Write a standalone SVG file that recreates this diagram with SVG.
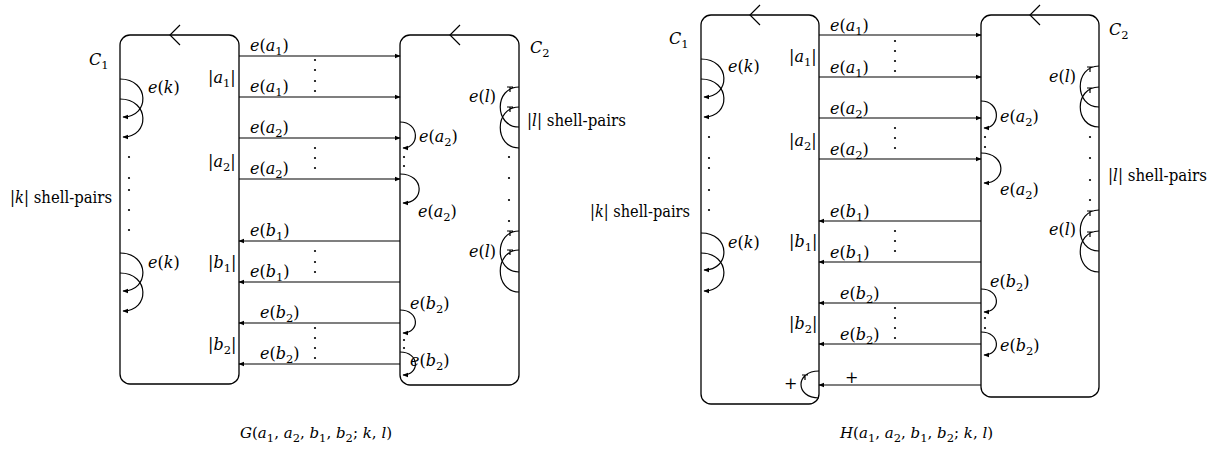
<svg xmlns="http://www.w3.org/2000/svg" width="1222" height="455" viewBox="0 0 1222 455">
<style>
.box{fill:none;stroke:#000;stroke-width:1.3}
.ln{fill:none;stroke:#000;stroke-width:1.2}
.ar{marker-end:url(#ah)}
.t{font-family:"DejaVu Serif","Liberation Serif",serif;font-size:16px;fill:#000}
.c{font-size:15px}
.i{font-style:italic}
.s{font-size:11.5px}
.d{fill:#000}
</style>
<defs>
<marker id="ah" viewBox="0 0 10 10" refX="9" refY="5" markerWidth="6" markerHeight="6" markerUnits="userSpaceOnUse" orient="auto"><path d="M0,1 L10,5 L0,9 Z" fill="#000"/></marker>
</defs>
<rect width="1222" height="455" fill="#fff"/>

<!-- ===== Diagram G ===== -->
<g id="G-C1">
<rect class="box" x="120" y="35" width="119" height="349" rx="10"/>
<path class="ln" d="M180,25 L170,35 L180,45"/>
<text class="t" x="89" y="65"><tspan class="i">C</tspan><tspan class="s" dy="4">1</tspan></text>
<text class="t" x="148" y="93"><tspan class="i">e</tspan>(<tspan class="i">k</tspan>)</text>
<text class="t" x="148" y="268"><tspan class="i">e</tspan>(<tspan class="i">k</tspan>)</text>
<text class="t" x="10" y="203" textLength="102" lengthAdjust="spacingAndGlyphs">|<tspan class="i">k</tspan>| shell-pairs</text>
<circle class="d" cx="129" cy="157" r="1.1"/><circle class="d" cx="129" cy="178" r="1.1"/><circle class="d" cx="129" cy="190" r="1.1"/><circle class="d" cx="129" cy="210" r="1.1"/><circle class="d" cx="129" cy="230" r="1.1"/>
<text class="t" x="208" y="83">|<tspan class="i">a</tspan><tspan class="s" dy="4">1</tspan><tspan dy="-4">|</tspan></text>
<text class="t" x="208" y="167">|<tspan class="i">a</tspan><tspan class="s" dy="4">2</tspan><tspan dy="-4">|</tspan></text>
<text class="t" x="208" y="268">|<tspan class="i">b</tspan><tspan class="s" dy="4">1</tspan><tspan dy="-4">|</tspan></text>
<text class="t" x="208" y="350">|<tspan class="i">b</tspan><tspan class="s" dy="4">2</tspan><tspan dy="-4">|</tspan></text>
</g>
<g id="G-C2">
<rect class="box" x="400" y="35" width="119" height="350" rx="10"/>
<path class="ln" d="M460,25 L450,35 L460,45"/>
<text class="t" x="530" y="53"><tspan class="i">C</tspan><tspan class="s" dy="4">2</tspan></text>
<text class="t" x="469" y="102"><tspan class="i">e</tspan>(<tspan class="i">l</tspan>)</text>
<text class="t" x="469" y="257"><tspan class="i">e</tspan>(<tspan class="i">l</tspan>)</text>
<text class="t" x="527" y="126" textLength="99" lengthAdjust="spacingAndGlyphs">|<tspan class="i">l</tspan>| shell-pairs</text>
<circle class="d" cx="509" cy="157" r="1.1"/><circle class="d" cx="509" cy="178" r="1.1"/><circle class="d" cx="509" cy="200" r="1.1"/><circle class="d" cx="509" cy="221" r="1.1"/>
<circle class="d" cx="404" cy="157" r="1.1"/><circle class="d" cx="404" cy="166" r="1.1"/>
<circle class="d" cx="404" cy="340" r="1.1"/><circle class="d" cx="404" cy="348" r="1.1"/>
<text class="t" x="419" y="142"><tspan class="i">e</tspan>(<tspan class="i">a</tspan><tspan class="s" dy="4">2</tspan><tspan dy="-4">)</tspan></text>
<text class="t" x="418" y="217"><tspan class="i">e</tspan>(<tspan class="i">a</tspan><tspan class="s" dy="4">2</tspan><tspan dy="-4">)</tspan></text>
<text class="t" x="410" y="309"><tspan class="i">e</tspan>(<tspan class="i">b</tspan><tspan class="s" dy="4">2</tspan><tspan dy="-4">)</tspan></text>
<text class="t" x="410" y="366"><tspan class="i">e</tspan>(<tspan class="i">b</tspan><tspan class="s" dy="4">2</tspan><tspan dy="-4">)</tspan></text>
</g>
<g id="G-connectors">
<path class="ln ar" d="M120,79 C150,79 150,117 123,117"/>
<path class="ln ar" d="M120,99 C150,99 150,137 123,137"/>
<path class="ln ar" d="M120,253 C150,253 150,291 123,291"/>
<path class="ln ar" d="M120,273 C150,273 150,311 123,311"/>
<path class="ln" d="M519,127 C494,127 494,87 519,87 M507,87 L513,87 M510,87 L510,92"/>
<path class="ln" d="M519,148 C494,148 494,107 519,107 M507,107 L513,107 M510,107 L510,112"/>
<path class="ln" d="M519,272 C494,272 494,231 519,231 M507,231 L513,231 M510,231 L510,236"/>
<path class="ln" d="M519,292 C494,292 494,250 519,250 M507,250 L513,250 M510,250 L510,255"/>
<path class="ln ar" d="M400,122 C420,122 420,148 403,148"/>
<path class="ln ar" d="M400,174 C425,174 425,203 403,203"/>
<path class="ln ar" d="M400,310 C420,310 420,333 403,333"/>
<path class="ln ar" d="M400,352 C420,352 420,375 403,375"/>
<path class="ln ar" d="M239,56 H400"/>
<path class="ln ar" d="M239,97 H400"/>
<path class="ln ar" d="M239,138 H400"/>
<path class="ln ar" d="M239,179 H400"/>
<path class="ln ar" d="M400,241 H239"/>
<path class="ln ar" d="M400,282 H239"/>
<path class="ln ar" d="M400,323 H239"/>
<path class="ln ar" d="M400,364 H239"/>
<text class="t" x="250" y="51"><tspan class="i">e</tspan>(<tspan class="i">a</tspan><tspan class="s" dy="4">1</tspan><tspan dy="-4">)</tspan></text>
<text class="t" x="250" y="92"><tspan class="i">e</tspan>(<tspan class="i">a</tspan><tspan class="s" dy="4">1</tspan><tspan dy="-4">)</tspan></text>
<text class="t" x="250" y="133"><tspan class="i">e</tspan>(<tspan class="i">a</tspan><tspan class="s" dy="4">2</tspan><tspan dy="-4">)</tspan></text>
<text class="t" x="250" y="174"><tspan class="i">e</tspan>(<tspan class="i">a</tspan><tspan class="s" dy="4">2</tspan><tspan dy="-4">)</tspan></text>
<text class="t" x="250" y="236"><tspan class="i">e</tspan>(<tspan class="i">b</tspan><tspan class="s" dy="4">1</tspan><tspan dy="-4">)</tspan></text>
<text class="t" x="250" y="277"><tspan class="i">e</tspan>(<tspan class="i">b</tspan><tspan class="s" dy="4">1</tspan><tspan dy="-4">)</tspan></text>
<text class="t" x="260" y="318"><tspan class="i">e</tspan>(<tspan class="i">b</tspan><tspan class="s" dy="4">2</tspan><tspan dy="-4">)</tspan></text>
<text class="t" x="260" y="359"><tspan class="i">e</tspan>(<tspan class="i">b</tspan><tspan class="s" dy="4">2</tspan><tspan dy="-4">)</tspan></text>
<circle class="d" cx="315" cy="60" r="1.1"/><circle class="d" cx="315" cy="70" r="1.1"/><circle class="d" cx="315" cy="81" r="1.1"/><circle class="d" cx="315" cy="91" r="1.1"/>
<circle class="d" cx="315" cy="148" r="1.1"/><circle class="d" cx="315" cy="158" r="1.1"/><circle class="d" cx="315" cy="168" r="1.1"/>
<circle class="d" cx="315" cy="251" r="1.1"/><circle class="d" cx="315" cy="262" r="1.1"/><circle class="d" cx="315" cy="272" r="1.1"/>
<circle class="d" cx="315" cy="328" r="1.1"/><circle class="d" cx="315" cy="338" r="1.1"/><circle class="d" cx="315" cy="348" r="1.1"/><circle class="d" cx="315" cy="358" r="1.1"/>
</g>
<text class="t c" x="240" y="438"><tspan class="i">G</tspan>(<tspan class="i">a</tspan><tspan class="s" dy="4">1</tspan><tspan dy="-4">, </tspan><tspan class="i">a</tspan><tspan class="s" dy="4">2</tspan><tspan dy="-4">, </tspan><tspan class="i">b</tspan><tspan class="s" dy="4">1</tspan><tspan dy="-4">, </tspan><tspan class="i">b</tspan><tspan class="s" dy="4">2</tspan><tspan dy="-4">; </tspan><tspan class="i">k</tspan>, <tspan class="i">l</tspan>)</text>

<!-- ===== Diagram H ===== -->
<g id="H-C1">
<rect class="box" x="701" y="15" width="118" height="389" rx="10"/>
<path class="ln" d="M760,5 L750,15 L760,25"/>
<text class="t" x="669" y="44"><tspan class="i">C</tspan><tspan class="s" dy="4">1</tspan></text>
<text class="t" x="728" y="72"><tspan class="i">e</tspan>(<tspan class="i">k</tspan>)</text>
<text class="t" x="728" y="248"><tspan class="i">e</tspan>(<tspan class="i">k</tspan>)</text>
<text class="t" x="590" y="217" textLength="100" lengthAdjust="spacingAndGlyphs">|<tspan class="i">k</tspan>| shell-pairs</text>
<circle class="d" cx="709" cy="137" r="1.1"/><circle class="d" cx="709" cy="158" r="1.1"/><circle class="d" cx="709" cy="168" r="1.1"/><circle class="d" cx="709" cy="190" r="1.1"/><circle class="d" cx="709" cy="210" r="1.1"/>
<text class="t" x="789" y="62">|<tspan class="i">a</tspan><tspan class="s" dy="4">1</tspan><tspan dy="-4">|</tspan></text>
<text class="t" x="789" y="146">|<tspan class="i">a</tspan><tspan class="s" dy="4">2</tspan><tspan dy="-4">|</tspan></text>
<text class="t" x="789" y="247">|<tspan class="i">b</tspan><tspan class="s" dy="4">1</tspan><tspan dy="-4">|</tspan></text>
<text class="t" x="789" y="329">|<tspan class="i">b</tspan><tspan class="s" dy="4">2</tspan><tspan dy="-4">|</tspan></text>
<text class="t" x="784" y="389">+</text>
</g>
<g id="H-C2">
<rect class="box" x="981" y="15" width="118" height="382" rx="10"/>
<path class="ln" d="M1040,5 L1030,15 L1040,25"/>
<text class="t" x="1109" y="35"><tspan class="i">C</tspan><tspan class="s" dy="4">2</tspan></text>
<text class="t" x="1049" y="82"><tspan class="i">e</tspan>(<tspan class="i">l</tspan>)</text>
<text class="t" x="1049" y="235"><tspan class="i">e</tspan>(<tspan class="i">l</tspan>)</text>
<text class="t" x="1108" y="181" textLength="99" lengthAdjust="spacingAndGlyphs">|<tspan class="i">l</tspan>| shell-pairs</text>
<circle class="d" cx="1090" cy="137" r="1.1"/><circle class="d" cx="1090" cy="158" r="1.1"/><circle class="d" cx="1090" cy="180" r="1.1"/><circle class="d" cx="1090" cy="200" r="1.1"/>
<circle class="d" cx="985" cy="137" r="1.1"/><circle class="d" cx="985" cy="147" r="1.1"/>
<circle class="d" cx="985" cy="318" r="1.1"/><circle class="d" cx="985" cy="328" r="1.1"/>
<text class="t" x="1000" y="122"><tspan class="i">e</tspan>(<tspan class="i">a</tspan><tspan class="s" dy="4">2</tspan><tspan dy="-4">)</tspan></text>
<text class="t" x="1000" y="195"><tspan class="i">e</tspan>(<tspan class="i">a</tspan><tspan class="s" dy="4">2</tspan><tspan dy="-4">)</tspan></text>
<text class="t" x="990" y="287"><tspan class="i">e</tspan>(<tspan class="i">b</tspan><tspan class="s" dy="4">2</tspan><tspan dy="-4">)</tspan></text>
<text class="t" x="1000" y="351"><tspan class="i">e</tspan>(<tspan class="i">b</tspan><tspan class="s" dy="4">2</tspan><tspan dy="-4">)</tspan></text>
</g>
<g id="H-connectors">
<path class="ln ar" d="M701,59 C731,59 731,97 704,97"/>
<path class="ln ar" d="M701,79 C731,79 731,117 704,117"/>
<path class="ln ar" d="M701,233 C731,233 731,270 704,270"/>
<path class="ln ar" d="M701,253 C731,253 731,291 704,291"/>
<path class="ln" d="M819,398 C795,398 795,371 819,371 M802,375 L808,375 M805,375 L805,380"/>
<path class="ln" d="M1099,107 C1074,107 1074,66 1099,66 M1087,67 L1093,67 M1090,67 L1090,72"/>
<path class="ln" d="M1099,127 C1074,127 1074,87 1099,87 M1087,88 L1093,88 M1090,88 L1090,93"/>
<path class="ln" d="M1099,251 C1074,251 1074,210 1099,210 M1087,211 L1093,211 M1090,211 L1090,216"/>
<path class="ln" d="M1099,272 C1074,272 1074,231 1099,231 M1087,232 L1093,232 M1090,232 L1090,237"/>
<path class="ln ar" d="M981,101 C1001,101 1001,128 984,128"/>
<path class="ln ar" d="M981,153 C1007,153 1007,183 984,183"/>
<path class="ln ar" d="M981,289 C1001,289 1001,312 984,312"/>
<path class="ln ar" d="M981,332 C1001,332 1001,355 984,355"/>
<path class="ln ar" d="M819,35 H981"/>
<path class="ln ar" d="M819,77 H981"/>
<path class="ln ar" d="M819,118 H981"/>
<path class="ln ar" d="M819,159 H981"/>
<path class="ln ar" d="M981,221 H819"/>
<path class="ln ar" d="M981,262 H819"/>
<path class="ln ar" d="M981,303 H819"/>
<path class="ln ar" d="M981,344 H819"/>
<path class="ln ar" d="M981,385 H819"/>
<text class="t" x="830" y="31"><tspan class="i">e</tspan>(<tspan class="i">a</tspan><tspan class="s" dy="4">1</tspan><tspan dy="-4">)</tspan></text>
<text class="t" x="830" y="73"><tspan class="i">e</tspan>(<tspan class="i">a</tspan><tspan class="s" dy="4">1</tspan><tspan dy="-4">)</tspan></text>
<text class="t" x="830" y="114"><tspan class="i">e</tspan>(<tspan class="i">a</tspan><tspan class="s" dy="4">2</tspan><tspan dy="-4">)</tspan></text>
<text class="t" x="830" y="155"><tspan class="i">e</tspan>(<tspan class="i">a</tspan><tspan class="s" dy="4">2</tspan><tspan dy="-4">)</tspan></text>
<text class="t" x="830" y="217"><tspan class="i">e</tspan>(<tspan class="i">b</tspan><tspan class="s" dy="4">1</tspan><tspan dy="-4">)</tspan></text>
<text class="t" x="830" y="258"><tspan class="i">e</tspan>(<tspan class="i">b</tspan><tspan class="s" dy="4">1</tspan><tspan dy="-4">)</tspan></text>
<text class="t" x="840" y="299"><tspan class="i">e</tspan>(<tspan class="i">b</tspan><tspan class="s" dy="4">2</tspan><tspan dy="-4">)</tspan></text>
<text class="t" x="840" y="340"><tspan class="i">e</tspan>(<tspan class="i">b</tspan><tspan class="s" dy="4">2</tspan><tspan dy="-4">)</tspan></text>
<text class="t" x="845" y="383">+</text>
<circle class="d" cx="895" cy="41" r="1.1"/><circle class="d" cx="895" cy="51" r="1.1"/><circle class="d" cx="895" cy="61" r="1.1"/><circle class="d" cx="895" cy="71" r="1.1"/>
<circle class="d" cx="895" cy="128" r="1.1"/><circle class="d" cx="895" cy="138" r="1.1"/><circle class="d" cx="895" cy="148" r="1.1"/>
<circle class="d" cx="895" cy="231" r="1.1"/><circle class="d" cx="895" cy="241" r="1.1"/><circle class="d" cx="895" cy="251" r="1.1"/>
<circle class="d" cx="895" cy="308" r="1.1"/><circle class="d" cx="895" cy="318" r="1.1"/><circle class="d" cx="895" cy="328" r="1.1"/><circle class="d" cx="895" cy="338" r="1.1"/>
</g>
<text class="t c" x="840" y="438"><tspan class="i">H</tspan>(<tspan class="i">a</tspan><tspan class="s" dy="4">1</tspan><tspan dy="-4">, </tspan><tspan class="i">a</tspan><tspan class="s" dy="4">2</tspan><tspan dy="-4">, </tspan><tspan class="i">b</tspan><tspan class="s" dy="4">1</tspan><tspan dy="-4">, </tspan><tspan class="i">b</tspan><tspan class="s" dy="4">2</tspan><tspan dy="-4">; </tspan><tspan class="i">k</tspan>, <tspan class="i">l</tspan>)</text>
</svg>
